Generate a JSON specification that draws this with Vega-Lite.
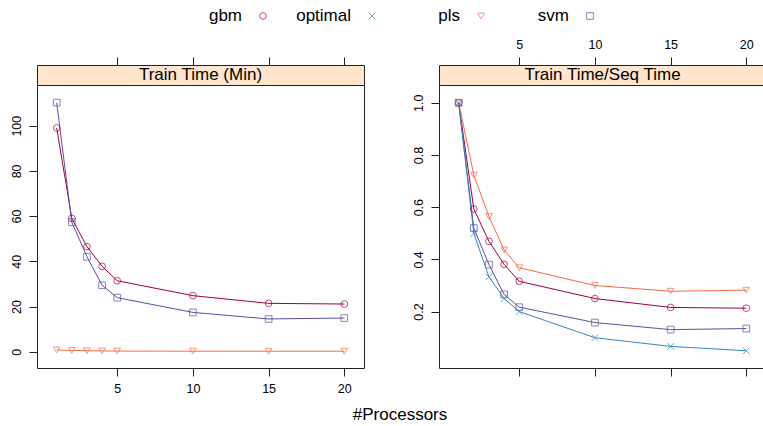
{
 "$schema": "https://vega.github.io/schema/vega-lite/v6.json",
 "background": "white",
 "padding": {"left": 9, "top": 6, "right": 0, "bottom": 0},
 "spacing": 11,
 "config": {
  "font": "Liberation Sans",
  "view": {"stroke": "#222", "strokeWidth": 1},
  "axis": {"domain": false, "grid": false, "tickColor": "#222", "tickSize": 8, "labelFontSize": 12.5, "labelColor": "#000", "labelFont": "Liberation Sans", "title": null, "labelPadding": 6},
  "text": {"font": "Liberation Sans", "color": "#000"}
 },
 "title": {"text": "#Processors", "orient": "bottom", "anchor": "middle", "fontSize": 17, "fontWeight": "normal", "font": "Liberation Sans", "color": "#000", "offset": 12, "dx": 12},
 "datasets": {
  "legend": [{"method": "gbm"}, {"method": "optimal"}, {"method": "pls"}, {"method": "svm"}],
  "time": [
   {"method": "gbm", "procs": 1, "value": 99.0},
   {"method": "gbm", "procs": 2, "value": 59.0},
   {"method": "gbm", "procs": 3, "value": 46.5},
   {"method": "gbm", "procs": 4, "value": 37.8},
   {"method": "gbm", "procs": 5, "value": 31.4},
   {"method": "gbm", "procs": 10, "value": 24.8},
   {"method": "gbm", "procs": 15, "value": 21.4},
   {"method": "gbm", "procs": 20, "value": 21.1},
   {"method": "svm", "procs": 1, "value": 110.2},
   {"method": "svm", "procs": 2, "value": 57.3},
   {"method": "svm", "procs": 3, "value": 42.0},
   {"method": "svm", "procs": 4, "value": 29.4},
   {"method": "svm", "procs": 5, "value": 23.9},
   {"method": "svm", "procs": 10, "value": 17.4},
   {"method": "svm", "procs": 15, "value": 14.5},
   {"method": "svm", "procs": 20, "value": 14.9},
   {"method": "pls", "procs": 1, "value": 0.8},
   {"method": "pls", "procs": 2, "value": 0.58},
   {"method": "pls", "procs": 3, "value": 0.45},
   {"method": "pls", "procs": 4, "value": 0.35},
   {"method": "pls", "procs": 5, "value": 0.29},
   {"method": "pls", "procs": 10, "value": 0.24},
   {"method": "pls", "procs": 15, "value": 0.22},
   {"method": "pls", "procs": 20, "value": 0.23}
  ],
  "ratio": [
   {"method": "gbm", "procs": 1, "value": 1.0},
   {"method": "gbm", "procs": 2, "value": 0.593},
   {"method": "gbm", "procs": 3, "value": 0.469},
   {"method": "gbm", "procs": 4, "value": 0.381},
   {"method": "gbm", "procs": 5, "value": 0.316},
   {"method": "gbm", "procs": 10, "value": 0.25},
   {"method": "gbm", "procs": 15, "value": 0.216},
   {"method": "gbm", "procs": 20, "value": 0.213},
   {"method": "svm", "procs": 1, "value": 1.0},
   {"method": "svm", "procs": 2, "value": 0.52},
   {"method": "svm", "procs": 3, "value": 0.38},
   {"method": "svm", "procs": 4, "value": 0.266},
   {"method": "svm", "procs": 5, "value": 0.217},
   {"method": "svm", "procs": 10, "value": 0.158},
   {"method": "svm", "procs": 15, "value": 0.131},
   {"method": "svm", "procs": 20, "value": 0.135},
   {"method": "pls", "procs": 1, "value": 1.0},
   {"method": "pls", "procs": 2, "value": 0.723},
   {"method": "pls", "procs": 3, "value": 0.564},
   {"method": "pls", "procs": 4, "value": 0.436},
   {"method": "pls", "procs": 5, "value": 0.368},
   {"method": "pls", "procs": 10, "value": 0.3},
   {"method": "pls", "procs": 15, "value": 0.278},
   {"method": "pls", "procs": 20, "value": 0.282},
   {"method": "optimal", "procs": 1, "value": 1.0},
   {"method": "optimal", "procs": 2, "value": 0.5},
   {"method": "optimal", "procs": 3, "value": 0.333},
   {"method": "optimal", "procs": 4, "value": 0.25},
   {"method": "optimal", "procs": 5, "value": 0.2},
   {"method": "optimal", "procs": 10, "value": 0.1},
   {"method": "optimal", "procs": 15, "value": 0.0667},
   {"method": "optimal", "procs": 20, "value": 0.05}
  ]
 },
 "vconcat": [
  {
   "data": {"name": "legend"},
   "width": 545,
   "height": 20,
   "view": {"stroke": null},
   "layer": [
    {
     "mark": {"type": "text", "align": "right", "dx": 96, "fontSize": 17, "baseline": "middle"},
     "encoding": {
      "x": {"field": "method", "type": "nominal", "scale": {"type": "point", "padding": 1}, "axis": null},
      "text": {"field": "method"}
     }
    },
    {
     "mark": {"type": "point", "filled": false, "size": 45, "strokeWidth": 1, "xOffset": 117},
     "encoding": {
      "x": {"field": "method", "type": "nominal", "scale": {"type": "point", "padding": 1}, "axis": null},
      "shape": {"field": "method", "type": "nominal", "scale": {"domain": ["gbm", "optimal", "pls", "svm"], "range": ["circle", "M-1,-1L1,1M-1,1L1,-1", "triangle-down", "square"]}, "legend": null},
      "color": {"field": "method", "type": "nominal", "scale": {"domain": ["gbm", "optimal", "pls", "svm"], "range": ["#9E0142", "#3288BD", "#F46D43", "#5E4FA2"]}, "legend": null}
     }
    }
   ]
  },
  {
   "columns": 2,
   "bounds": "flush",
   "spacing": {"row": 0, "column": 75},
   "concat": [
    {
     "width": 327,
     "height": 20,
     "view": {"fill": "#FFE5CC", "stroke": "#222"},
     "layer": [
      {
       "data": {"values": [{"panel": "Train Time (Min)"}]},
       "mark": {"type": "text", "fontSize": 17, "baseline": "middle"},
       "encoding": {"text": {"field": "panel"}}
      },
      {
       "data": {"name": "time"},
       "mark": {"type": "tick", "opacity": 0},
       "encoding": {
        "x": {"field": "procs", "type": "quantitative", "scale": {"domain": [-0.3, 21.3], "nice": false, "zero": false}, "axis": {"orient": "top", "values": [5, 10, 15, 20], "labels": false}}
       }
      }
     ]
    },
    {
     "width": 327,
     "height": 20,
     "view": {"fill": "#FFE5CC", "stroke": "#222"},
     "layer": [
      {
       "data": {"values": [{"panel": "Train Time/Seq Time"}]},
       "mark": {"type": "text", "fontSize": 17, "baseline": "middle"},
       "encoding": {"text": {"field": "panel"}}
      },
      {
       "data": {"name": "ratio"},
       "mark": {"type": "tick", "opacity": 0},
       "encoding": {
        "x": {"field": "procs", "type": "quantitative", "scale": {"domain": [-0.3, 21.3], "nice": false, "zero": false}, "axis": {"orient": "top", "values": [5, 10, 15, 20]}}
       }
      }
     ]
    },
    {
     "width": 327,
     "height": 283,
     "data": {"name": "time"},
     "encoding": {
      "x": {"field": "procs", "type": "quantitative", "scale": {"domain": [-0.3, 21.3], "nice": false, "zero": false}, "axis": {"orient": "bottom", "values": [5, 10, 15, 20]}},
      "y": {"field": "value", "type": "quantitative", "scale": {"domain": [-7.2, 118], "nice": false, "zero": false}, "axis": {"values": [0, 20, 40, 60, 80, 100], "labelAngle": -90}},
      "color": {"field": "method", "type": "nominal", "scale": {"domain": ["gbm", "optimal", "pls", "svm"], "range": ["#9E0142", "#3288BD", "#F46D43", "#5E4FA2"]}, "legend": null}
     },
     "layer": [
      {"mark": {"type": "line", "strokeWidth": 1}},
      {
       "mark": {"type": "point", "filled": false, "size": 45, "strokeWidth": 1},
       "encoding": {
        "shape": {"field": "method", "type": "nominal", "scale": {"domain": ["gbm", "optimal", "pls", "svm"], "range": ["circle", "M-1,-1L1,1M-1,1L1,-1", "triangle-down", "square"]}, "legend": null}
       }
      }
     ]
    },
    {
     "width": 327,
     "height": 283,
     "data": {"name": "ratio"},
     "encoding": {
      "x": {"field": "procs", "type": "quantitative", "scale": {"domain": [-0.3, 21.3], "nice": false, "zero": false}, "axis": {"orient": "bottom", "values": [5, 10, 15, 20], "labels": false}},
      "y": {"field": "value", "type": "quantitative", "scale": {"domain": [-0.016, 1.068], "nice": false, "zero": false}, "axis": {"values": [0.2, 0.4, 0.6, 0.8, 1.0], "format": ".1f", "labelAngle": -90}},
      "color": {"field": "method", "type": "nominal", "scale": {"domain": ["gbm", "optimal", "pls", "svm"], "range": ["#9E0142", "#3288BD", "#F46D43", "#5E4FA2"]}, "legend": null}
     },
     "layer": [
      {"mark": {"type": "line", "strokeWidth": 1}},
      {
       "mark": {"type": "point", "filled": false, "size": 45, "strokeWidth": 1},
       "encoding": {
        "shape": {"field": "method", "type": "nominal", "scale": {"domain": ["gbm", "optimal", "pls", "svm"], "range": ["circle", "M-1,-1L1,1M-1,1L1,-1", "triangle-down", "square"]}, "legend": null}
       }
      }
     ]
    }
   ]
  }
 ]
}
